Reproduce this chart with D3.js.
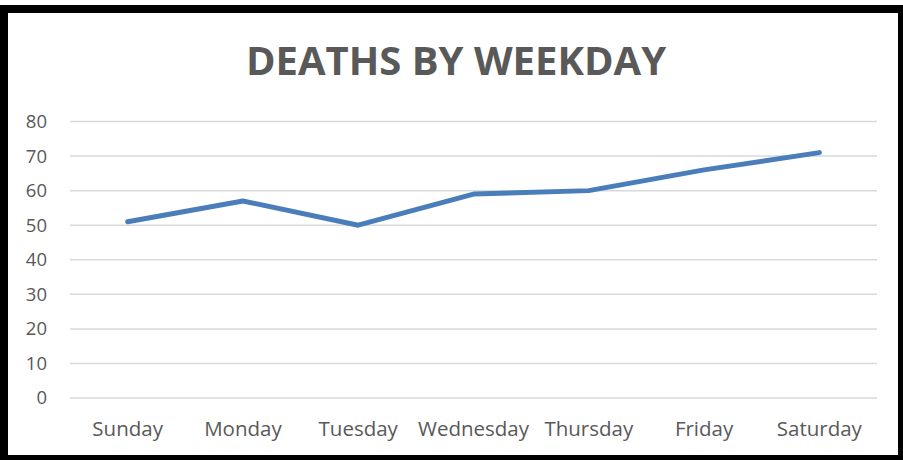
<!DOCTYPE html>
<html>
<head>
<meta charset="utf-8">
<script src="https://cdn.jsdelivr.net/npm/d3@7"></script>
<style>
  html, body { margin: 0; padding: 0; background: #fff; }
  svg { display: block; }
</style>
</head>
<body>
<svg id="canvas"></svg>
<script>
const days = ['Sunday', 'Monday', 'Tuesday', 'Wednesday', 'Thursday', 'Friday', 'Saturday']
const deaths = [51, 57, 50, 59, 60, 66, 71]
const yTicks = [0, 10, 20, 30, 40, 50, 60, 70, 80]

const width = 903, height = 460
const plot = { left: 70, right: 877, top: 121.5, bottom: 398 }
const textColor = '#595959'
const font = '"Open Sans", "Noto Sans", sans-serif'

const svg = d3.select('#canvas')
    .attr('width', width)
    .attr('height', height)

// frame (thick on top/left/bottom, thin on the right)
svg.append('rect').attr('x', 0).attr('y', 0).attr('width', width).attr('height', height).attr('fill', '#fff')
svg.append('rect').attr('x', 0).attr('y', 5).attr('width', 903).attr('height', 8).attr('fill', '#000')
svg.append('rect').attr('x', 0).attr('y', 5).attr('width', 8).attr('height', 455).attr('fill', '#000')
svg.append('rect').attr('x', 0).attr('y', 455).attr('width', 903).attr('height', 5).attr('fill', '#000')
svg.append('rect').attr('x', 898).attr('y', 5).attr('width', 5).attr('height', 455).attr('fill', '#000')

const x = d3.scaleBand()
    .domain(days)
    .range([plot.left, plot.right])

const y = d3.scaleLinear()
    .domain([0, 80])
    .range([plot.bottom, plot.top])

// gridlines
svg.append('g')
    .selectAll('line')
    .data(yTicks)
    .enter()
    .append('line')
    .attr('x1', plot.left)
    .attr('x2', plot.right)
    .attr('y1', d => y(d))
    .attr('y2', d => y(d))
    .attr('stroke', '#d9d9d9')
    .attr('stroke-width', 1.5)

// y axis labels
svg.append('g')
    .selectAll('text')
    .data(yTicks)
    .enter()
    .append('text')
    .attr('x', 47)
    .attr('y', d => y(d))
    .attr('dy', '0.35em')
    .attr('text-anchor', 'end')
    .attr('font-size', 18.5)
    .attr('font-family', font)
    .attr('fill', textColor)
    .text(d => d)

// x axis labels
svg.append('g')
    .selectAll('text')
    .data(days)
    .enter()
    .append('text')
    .attr('x', d => x(d) + x.bandwidth() / 2)
    .attr('y', 436)
    .attr('text-anchor', 'middle')
    .attr('font-size', 20.5)
    .attr('font-family', font)
    .attr('fill', textColor)
    .text(d => d)

// line
const line = d3.line()
    .x((d, i) => x(days[i]) + x.bandwidth() / 2)
    .y(d => y(d))

svg.append('path')
    .datum(deaths)
    .attr('d', line)
    .attr('fill', 'none')
    .attr('stroke', '#4a7ebb')
    .attr('stroke-width', 5)
    .attr('stroke-linecap', 'round')
    .attr('stroke-linejoin', 'round')

// title
svg.append('text')
    .attr('x', 456)
    .attr('y', 75)
    .attr('text-anchor', 'middle')
    .attr('font-size', 40)
    .attr('font-weight', 'bold')
    .attr('font-family', font)
    .attr('fill', textColor)
    .text('DEATHS BY WEEKDAY')
</script>
</body>
</html>
